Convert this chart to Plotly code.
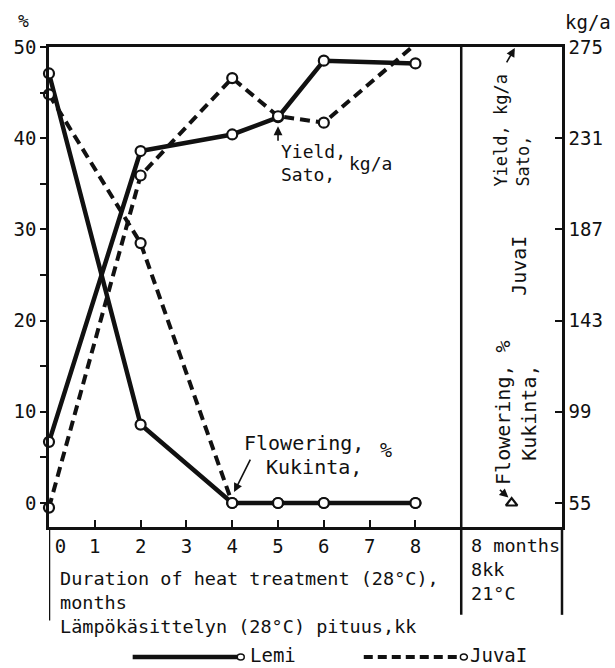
import plotly.graph_objects as go

# ---- data ----
months = [0, 2, 4, 5, 6, 8]
lemi_flowering = [47.1, 8.6, 0, 0, 0, 0]          # %
juva_flowering = [44.8, 28.5, 0, 0, 0, 0]         # %
lemi_yield = [84.5, 224.8, 232.8, 241.1, 268.4, 267.1]   # kg/a
juva_yield = [52.8, 213.0, 260.0, 241.6, 238.5, 276.3]   # kg/a
control_x = [10.1]          # 8 months at 21 °C (Juva I)
control_flowering = [0]     # %

left_ticks = [0, 5, 10, 15, 20, 25, 30, 35, 40, 45, 50]
left_labels = ["0", "", "10", "", "20", "", "30", "", "40", "", "50"]
right_ticks = [55, 99, 143, 187, 231, 275]
x_ticks = [0, 1, 2, 3, 4, 5, 6, 7, 8]
x_labels = ["\u00a0\u00a00", "1", "2", "3", "4", "5", "6", "7", "8"]

FONT = "DejaVu Sans Mono"
BLACK = "#111111"

Y0, Y1 = -2.63, 50.0
K0, K1 = 55 + 4.4 * Y0, 275.0

solid = dict(color=BLACK, width=4.5)
dashed = dict(color=BLACK, width=4, dash="10px,6px")

fig = go.Figure()
fig.add_trace(go.Scatter(x=months, y=lemi_flowering, mode="lines", line=solid,
                         name="Lemi flowering", showlegend=False, cliponaxis=False))
fig.add_trace(go.Scatter(x=months, y=juva_flowering, mode="lines", line=dashed,
                         name="Juva I flowering", showlegend=False, cliponaxis=False))
fig.add_trace(go.Scatter(x=months, y=lemi_yield, mode="lines", line=solid, yaxis="y2",
                         name="Lemi yield", showlegend=False, cliponaxis=False))
fig.add_trace(go.Scatter(x=months, y=juva_yield, mode="lines", line=dashed, yaxis="y2",
                         name="Juva I yield", showlegend=False, cliponaxis=False))
# markers on top
for yy, ax in [(lemi_flowering, "y"), (juva_flowering, "y"), (lemi_yield, "y2"), (juva_yield, "y2")]:
    fig.add_trace(go.Scatter(x=months, y=yy, mode="markers", yaxis=ax,
                             marker=dict(symbol="circle", size=10, color="white",
                                         line=dict(width=2.2, color=BLACK)),
                             showlegend=False, cliponaxis=False, hoverinfo="skip"))
fig.add_trace(go.Scatter(x=control_x, y=control_flowering, mode="markers",
                         marker=dict(symbol="triangle-up", size=10, color="white",
                                     line=dict(width=2.2, color=BLACK)),
                         showlegend=False, cliponaxis=False, name="Juva I 21°C"))

axis_font = dict(family=FONT, size=19, color=BLACK)

fig.update_layout(
    width=615, height=668,
    margin=dict(l=49, r=51, t=47, b=141),
    paper_bgcolor="white", plot_bgcolor="white",
    font=axis_font,
    showlegend=False,
    xaxis=dict(range=[0, 11.2], tickvals=x_ticks, ticktext=x_labels, ticks="inside",
               ticklen=7, tickwidth=2, tickcolor=BLACK, showline=True, linewidth=2.5,
               linecolor=BLACK, mirror=True, showgrid=False, zeroline=False,
               tickfont=axis_font),
    yaxis=dict(range=[Y0, Y1], tickvals=left_ticks, ticktext=left_labels, ticks="outside",
               ticklen=6, tickwidth=2, tickcolor=BLACK, showline=True, linewidth=2.5,
               linecolor=BLACK, showgrid=False, zeroline=False, tickfont=axis_font),
    yaxis2=dict(range=[K0, K1], tickvals=right_ticks, overlaying="y", side="right",
                ticks="inside", ticklen=7, tickwidth=2, tickcolor=BLACK, showline=True,
                linewidth=2.5, linecolor=BLACK, showgrid=False, zeroline=False,
                tickfont=axis_font),
)

# frame extensions (table-like area below the axis) and divider
fig.add_shape(type="line", xref="x", yref="paper", x0=0, x1=0, y0=0, y1=-0.195,
              line=dict(color=BLACK, width=2.5))
fig.add_shape(type="line", xref="x", yref="paper", x0=9, x1=9, y0=1, y1=-0.183,
              line=dict(color=BLACK, width=2.5))
fig.add_shape(type="line", xref="paper", yref="paper", x0=1, x1=1, y0=0, y1=-0.183,
              line=dict(color=BLACK, width=2.5))

ann = []
def text(x, y, t, xref="x", yref="y", xanchor="left", yanchor="middle", size=18.5, angle=0, align="left"):
    ann.append(dict(x=x, y=y, xref=xref, yref=yref, text=t, showarrow=False, xanchor=xanchor,
                    yanchor=yanchor, textangle=angle, align=align,
                    font=dict(family=FONT, size=size, color=BLACK)))

def arrow(x, y, ax, ay):
    ann.append(dict(x=x, y=y, xref="x", yref="y", text="", showarrow=True, ax=ax, ay=ay,
                    arrowhead=2, arrowsize=1.1, arrowwidth=1.6, arrowcolor=BLACK))

# axis unit labels
text(-0.05, 1.056, "%", xref="paper", yref="paper", xanchor="center", size=18)
text(1.05, 1.052, "kg/a", xref="paper", yref="paper", xanchor="center", size=19)

# x-axis titles
text(0.2, -0.082, "Duration of heat treatment (28°C),<br>months<br>Lämpökäsittelyn (28°C) pituus,kk",
     yref="paper", yanchor="top")
text(9.17, -0.012, "8 months<br>8kk<br>21°C", yref="paper", yanchor="top")

# in-plot labels
text(5.02, 37.3, "Yield,<br>Sato,", size=18)
text(6.5, 37.2, "kg/a", size=18)
arrow(5.0, 41.3, 0, 16)
text(4.22, 6.6, "Flowering,", size=20)
text(4.70, 3.95, "Kukinta,", size=20)
text(7.35, 5.8, "%", xanchor="center", size=20)
arrow(4.04, 1.2, 17, -34)

# right panel labels (rotated)
text(10.26, 26.0, "JuvaI", xanchor="center", angle=-90, size=20)
text(10.2, 9.9, "Flowering, %<br>Kukinta,", xanchor="center", angle=-90, align="center", size=20)
text(10.1, 40.9, "Yield, kg/a<br>Sato,", xanchor="center", angle=-90, align="left", size=17)
arrow(10.17, 49.9, -9, 16)
arrow(10.03, 0.6, -10, -9)

# legend (drawn manually)
LY = 657
fig.add_shape(type="line", xref="paper", yref="paper", x0=(133 - 49) / 515, x1=(240 - 49) / 515,
              y0=(527 - LY) / 480, y1=(527 - LY) / 480, line=dict(color=BLACK, width=4.5))
fig.add_shape(type="circle", xref="paper", yref="paper", x0=(238 - 49) / 515, x1=(245 - 49) / 515,
              y0=(527 - LY - 3) / 480, y1=(527 - LY + 3) / 480, line=dict(color=BLACK, width=1.5),
              fillcolor="white")
text((249 - 49) / 515, (527 - 655) / 480, "Lemi", xref="paper", yref="paper", size=19)
fig.add_shape(type="line", xref="paper", yref="paper", x0=(365 - 49) / 515, x1=(463 - 49) / 515,
              y0=(527 - LY) / 480, y1=(527 - LY) / 480,
              line=dict(color=BLACK, width=4, dash="9px,5px"))
fig.add_shape(type="circle", xref="paper", yref="paper", x0=(462 - 49) / 515, x1=(469 - 49) / 515,
              y0=(527 - LY - 3) / 480, y1=(527 - LY + 3) / 480, line=dict(color=BLACK, width=1.5),
              fillcolor="white")
text((470 - 49) / 515, (527 - 655) / 480, "JuvaI", xref="paper", yref="paper", size=19)

fig.update_layout(annotations=ann)
fig.write_html("out.html")
